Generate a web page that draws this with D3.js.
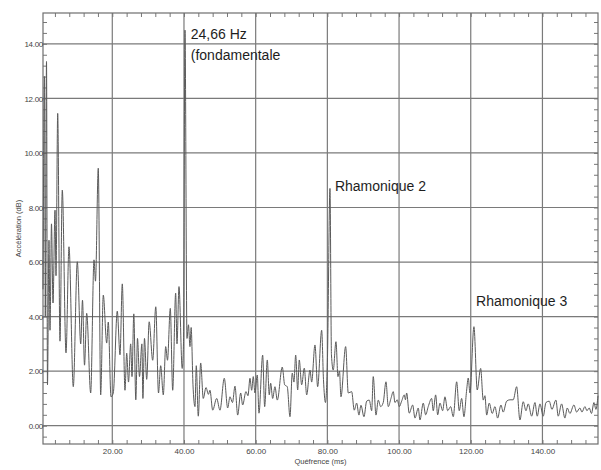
<!DOCTYPE html>
<html>
<head>
<meta charset="utf-8">
<script src="https://cdn.jsdelivr.net/npm/d3@7"></script>
<style>
  html, body { margin: 0; padding: 0; background: #ffffff; }
  svg { display: block; }
  text { font-family: "Liberation Sans", Arial, sans-serif; }
</style>
</head>
<body>
<svg id="chart" width="601" height="470"></svg>
<script>
// ---- Data ----
const quefrenceMs = [
  0.67, 1.09, 1.31, 1.65, 1.92, 2.34, 2.62, 3.04, 3.46, 4.02, 4.30, 4.77, 5.41, 6.05, 7.09, 7.92,
  9.12, 10.24, 11.19, 11.69, 12.25, 12.86, 13.97, 14.90, 15.31, 16.09, 16.76, 17.49, 18.44, 18.88,
  19.64, 20.28, 21.39, 22.15, 22.79, 23.54, 24.02, 24.52, 25.13, 25.50, 26.00, 26.56, 27.03, 27.59,
  28.26, 28.54, 28.98, 29.60, 30.29, 31.27, 32.13, 32.89, 33.50, 34.23, 34.90, 35.40, 36.18, 36.85,
  37.68, 38.05, 38.61, 39.50, 39.86, 40.28, 40.84, 41.25, 41.67, 42.00, 42.51, 43.07, 43.43, 43.99,
  44.66, 45.38, 46.14, 46.83, 47.25, 48.01, 49.12, 50.04, 51.24, 52.19, 52.83, 53.53, 54.23, 54.98,
  55.82, 56.37, 57.29, 57.85, 58.41, 58.88, 59.33, 59.80, 60.45, 60.92, 61.95, 62.51, 63.24, 63.79,
  64.18, 64.74, 65.38, 66.03, 67.42, 68.09, 68.81, 69.57, 70.21, 70.68, 71.16, 71.72, 72.16, 72.83,
  73.56, 74.23, 75.15, 75.62, 76.54, 77.29, 78.41, 78.91, 79.47, 80.03, 80.73, 81.14, 81.64, 82.40,
  82.96, 83.38, 83.79, 85.10, 85.83, 86.78, 87.50, 88.17, 88.81, 89.37, 90.21, 90.96, 91.69, 92.36,
  92.80, 93.56, 94.20, 94.87, 95.59, 96.35, 96.99, 97.74, 98.38, 98.86, 99.50, 100.06, 100.72,
  101.45, 101.78, 102.12, 102.84, 103.79, 104.44, 105.36, 105.83, 106.75, 107.42, 108.14, 109.09,
  109.54, 110.21, 110.77, 111.41, 112.16, 112.80, 113.56, 114.39, 115.12, 116.07, 116.79, 117.46,
  118.10, 118.86, 119.30, 119.78, 120.89, 121.81, 122.76, 123.49, 123.96, 124.44, 125.16, 126.00,
  126.75, 127.50, 128.42, 129.06, 130.01, 130.93, 131.85, 132.80, 133.72, 134.64, 135.40, 136.04,
  136.99, 137.91, 138.55, 139.30, 140.22, 140.98, 141.90, 142.64, 143.76, 144.40, 145.35, 146.26,
  146.92, 147.66, 148.78, 149.54, 150.45, 151.02, 151.85, 152.41, 153.05, 153.68, 154.37, 154.92,
  155.50
];
const accelerationDb = [
  5.0, 12.8, 4.0, 13.35, 1.5, 6.8, 3.5, 7.4, 4.5, 7.9, 5.5, 11.45, 3.1, 8.64, 2.67, 6.56,
  1.43, 6.01, 3.0, 4.6, 2.22, 4.12, 1.2, 6.08, 5.3, 9.44, 1.13, 4.79, 3.03, 3.8,
  1.06, 1.2, 4.2, 2.6, 5.2, 1.3, 2.66, 1.6, 3.0, 1.8, 4.1, 0.95, 3.2, 1.8,
  3.0, 1.0, 3.2, 1.7, 3.81, 2.4, 4.36, 1.2, 2.2, 1.13, 2.9, 2.4, 4.3, 1.3,
  4.86, 3.0, 5.1, 2.1, 3.0, 14.5, 3.2, 3.7, 2.9, 3.6, 1.5, 0.7, 2.2, 0.35,
  2.3, 1.0, 1.4, 1.15, 1.3, 0.57, 1.0, 0.57, 1.74, 0.65, 1.06, 0.85, 1.45, 0.39,
  1.2, 0.76, 1.25, 1.1, 1.74, 1.3, 1.8, 1.2, 1.86, 0.46, 2.59, 0.7, 2.41, 1.13,
  1.56, 1.0, 1.43, 0.94, 2.15, 1.5, 1.43, 0.33, 1.93, 1.6, 2.59, 1.31, 2.41, 1.5,
  2.11, 1.13, 2.04, 1.6, 2.96, 1.43, 3.5, 1.7, 0.85, 2.5, 8.7, 2.6, 2.04, 3.08,
  1.8, 2.0, 1.06, 2.9, 1.2, 1.25, 0.57, 0.83, 0.39, 0.75, 0.33, 0.9, 0.94, 0.55,
  1.8, 0.39, 0.94, 0.7, 0.85, 1.61, 0.7, 1.0, 1.25, 0.85, 0.95, 0.7, 0.9,
  1.13, 0.95, 1.2, 0.46, 0.76, 0.28, 0.65, 0.21, 0.83, 0.4, 0.7, 1.0,
  0.55, 1.13, 0.4, 0.83, 0.55, 1.06, 0.55, 0.7, 0.33, 1.61, 0.55, 1.0,
  0.33, 1.31, 1.75, 1.2, 3.63, 1.31, 2.1, 0.94, 1.1, 0.39, 0.83, 0.45,
  0.7, 0.28, 0.76, 0.5, 0.9, 0.95, 0.95, 1.43, 0.21, 0.88, 0.55, 0.8,
  0.35, 0.85, 0.35, 0.8, 0.35, 0.85, 0.9, 0.6, 0.94, 0.35, 0.8, 0.28,
  0.65, 0.45, 0.76, 0.5, 0.65, 0.5, 0.7, 0.55, 0.65, 0.45, 0.85, 0.6,
  1.1
];
const xMajorTicks = [20, 40, 60, 80, 100, 120, 140];
const xTickLabels = ["20.00", "40.00", "60.00", "80.00", "100.00", "120.00", "140.00"];
const yMajorTicks = [0, 2, 4, 6, 8, 10, 12, 14];
const yTickLabels = ["0.00", "2.00", "4.00", "6.00", "8.00", "10.00", "12.00", "14.00"];
const xTitle = "Quéfrence (ms)";
const yTitle = "Accélération (dB)";
const annotationText = ["24,66 Hz", "(fondamentale", "Rhamonique 2", "Rhamonique 3"];
const annotationX = [41.9, 41.9, 82.1, 121.5];
const annotationY = [14.18, 13.4, 8.62, 4.39];

(function () {
  // ---- Layout ----
  const pLeft = 43, pRight = 598, pTop = 13, pBottom = 444;
  const x = d3.scaleLinear().domain([0.67, 155.5]).range([pLeft, pRight]);
  const y = d3.scaleLinear().domain([-0.67, 15.13]).range([pBottom, pTop]);

  const svg = d3.select("#chart");
  const gridColor = "#7a7a7a";

  // Grid lines
  svg.append("g").selectAll("line").data(xMajorTicks).join("line")
    .attr("x1", d => x(d)).attr("x2", d => x(d))
    .attr("y1", pTop).attr("y2", pBottom)
    .attr("stroke", gridColor).attr("stroke-width", 1.2);
  svg.append("g").selectAll("line").data(yMajorTicks).join("line")
    .attr("x1", pLeft).attr("x2", pRight)
    .attr("y1", d => y(d)).attr("y2", d => y(d))
    .attr("stroke", gridColor).attr("stroke-width", 1.2);

  // Minor ticks (inside the frame) via d3 axes
  const xMinor = d3.range(4, 156, 4);
  const yMinor = d3.range(-0.4, 15.1, 0.4);
  const tickStyle = g => {
    g.select(".domain").remove();
    g.selectAll("line").attr("stroke", "#777").attr("stroke-width", 1);
    g.selectAll("text").remove();
  };
  svg.append("g").attr("transform", `translate(0,${pBottom})`)
    .call(d3.axisTop(x).tickValues(xMinor).tickSize(4)).call(tickStyle);
  svg.append("g").attr("transform", `translate(0,${pTop})`)
    .call(d3.axisBottom(x).tickValues(xMinor).tickSize(4)).call(tickStyle);
  svg.append("g").attr("transform", `translate(${pLeft},0)`)
    .call(d3.axisRight(y).tickValues(yMinor).tickSize(4)).call(tickStyle);
  svg.append("g").attr("transform", `translate(${pRight},0)`)
    .call(d3.axisLeft(y).tickValues(yMinor).tickSize(4)).call(tickStyle);

  // Frame
  svg.append("rect")
    .attr("x", pLeft).attr("y", pTop)
    .attr("width", pRight - pLeft).attr("height", pBottom - pTop)
    .attr("fill", "none").attr("stroke", "#6e6e6e").attr("stroke-width", 1.2);

  // Tick labels via axes
  const xAxis = d3.axisBottom(x).tickValues(xMajorTicks).tickSize(0)
    .tickFormat((d, i) => xTickLabels[i]);
  svg.append("g").attr("transform", `translate(0,${pBottom})`).call(xAxis)
    .call(g => g.select(".domain").remove())
    .call(g => g.selectAll("text").attr("dy", null).attr("y", 10)
      .attr("font-size", 8).attr("fill", "#444")
      .attr("font-family", "Liberation Sans, Arial, sans-serif"));

  const yAxis = d3.axisLeft(y).tickValues(yMajorTicks).tickSize(0)
    .tickFormat((d, i) => yTickLabels[i]);
  svg.append("g").attr("transform", `translate(${pLeft},0)`).call(yAxis)
    .call(g => g.select(".domain").remove())
    .call(g => g.selectAll("text").attr("x", 0).attr("dy", "0.35em")
      .attr("font-size", 8).attr("fill", "#444").attr("letter-spacing", -0.3)
      .attr("font-family", "Liberation Sans, Arial, sans-serif"));

  // Axis titles
  svg.append("text")
    .attr("x", (pLeft + pRight) / 2).attr("y", 464)
    .attr("text-anchor", "middle").attr("font-size", 7.5).attr("fill", "#444")
    .text(xTitle);
  svg.append("text")
    .attr("transform", `translate(21,${(pTop + pBottom) / 2}) rotate(-90)`)
    .attr("text-anchor", "middle").attr("font-size", 7.5).attr("fill", "#444")
    .text(yTitle);

  // Curve
  const pts = quefrenceMs.map((q, i) => [q, accelerationDb[i]]);
  const line = d3.line().x(d => x(d[0])).y(d => y(d[1])).curve(d3.curveMonotoneX);
  svg.append("path")
    .datum(pts)
    .attr("d", line)
    .attr("fill", "none")
    .attr("stroke", "#5a5a5a")
    .attr("stroke-width", 1)
    .attr("stroke-linejoin", "round");

  // Annotations
  svg.append("g").selectAll("text").data(annotationText).join("text")
    .attr("x", (d, i) => x(annotationX[i]))
    .attr("y", (d, i) => y(annotationY[i]))
    .attr("font-size", 14).attr("fill", "#1e1e1e")
    .text(d => d);
})();
</script>
</body>
</html>
